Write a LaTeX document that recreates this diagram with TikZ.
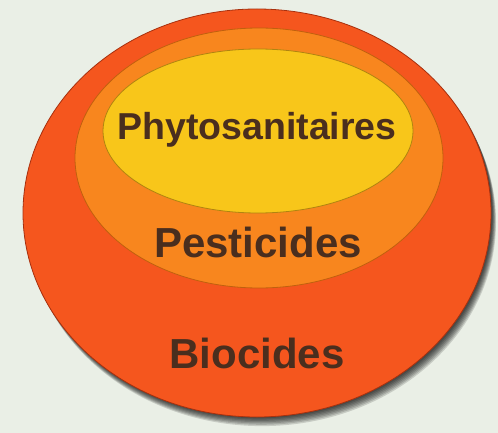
\documentclass[tikz,border=0pt]{standalone}
\usepackage{fontspec}
\setmainfont{Liberation Sans}
\definecolor{bg}{HTML}{EAEFE6}
\definecolor{redfill}{HTML}{F5561E}
\definecolor{redline}{HTML}{A8300E}
\definecolor{orfill}{HTML}{F8861E}
\definecolor{orline}{HTML}{C0600E}
\definecolor{yefill}{HTML}{F8C61A}
\definecolor{yeline}{HTML}{B08410}
\definecolor{txt}{HTML}{4A2E1E}
\tikzset{
  lbl/.style={anchor=base, text=txt, font=\bfseries, inner sep=0pt},
}
\begin{document}
\begin{tikzpicture}[x=1pt,y=-1pt]
\fill[bg] (0,0) rectangle (498,433);
\useasboundingbox (0,0) rectangle (498,433);
% shadow
\foreach \i in {1,...,7}{
  \fill[black, opacity=0.15] ({257+0.8+0.6*\i},{213+1.3*\i}) ellipse (234 and 204);
}
% outer
\fill[redfill, draw=redline, line width=0.8pt] (257,213) ellipse (234 and 204);
% middle
\fill[orfill, draw=orline, line width=0.8pt] (259,158) ellipse (184 and 130);
% inner
\fill[yefill, draw=yeline, line width=0.8pt] (258,131) ellipse (155 and 82);
\node[lbl, font=\fontsize{37.5}{40}\selectfont\bfseries] (phyto) at (257,140) {Phytosanitaires};
\node[lbl, font=\fontsize{42}{44}\selectfont\bfseries] (pest) at (258,257) {Pesticides};
\node[lbl, font=\fontsize{42}{44}\selectfont\bfseries] (bio) at (257,368) {Biocides};
\end{tikzpicture}
\end{document}
